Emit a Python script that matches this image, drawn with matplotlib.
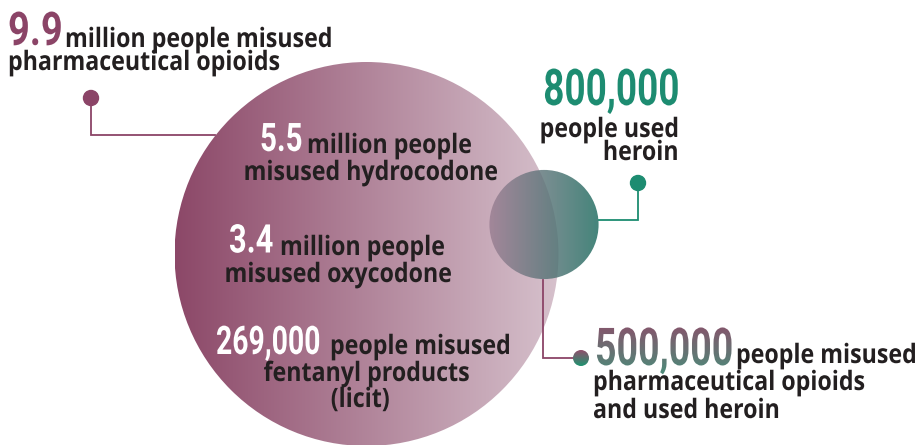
import numpy as np
import matplotlib
matplotlib.use("Agg")
import matplotlib.pyplot as plt
from matplotlib.patches import Circle
from matplotlib.patheffects import AbstractPathEffect
from matplotlib.transforms import TransformedPath, Affine2D

# ---------------- data ----------------
group_names = ["pharmaceutical opioids", "heroin", "both"]
group_values = [9.9e6, 0.8e6, 0.5e6]
group_numbers = ["9.9", "800,000", "500,000"]

drug_names = ["hydrocodone", "oxycodone", "fentanyl products (licit)"]
drug_values = [5.5e6, 3.4e6, 269000]
drug_numbers = ["5.5", "3.4", "269,000"]

# ---------------- style ----------------
MAROON = "#8B4467"
TEAL = "#1D8C71"
DARK = "#231F20"
NUM_FONT = ["Roboto", "DejaVu Sans"]
BODY_FONT = ["Open Sans", "DejaVu Sans"]
BODY_SIZE = 16.7
BODY_SY = 1.15

fig = plt.figure(figsize=(9.18, 4.45), dpi=100)
ax = fig.add_axes([0, 0, 1, 1])
ax.axis("off")


def grad_circle(cx, cy, r, c0, c1, alpha=1.0, z=1, vertical=False):
    circ = Circle((cx, cy), r, facecolor="none", edgecolor="none", zorder=z)
    ax.add_patch(circ)
    t = np.linspace(0, 1, 256)
    g = (1 - t)[:, None] * np.array(c0) + t[:, None] * np.array(c1)
    g = g / 255.0
    img = g[:, None, :] if vertical else g[None, :, :]
    im = ax.imshow(img, extent=(cx - r, cx + r, cy + r, cy - r), aspect="auto",
                   interpolation="bilinear", alpha=alpha, zorder=z)
    im.set_clip_path(circ)
    return circ


class Tall(AbstractPathEffect):
    """Draw the text stretched vertically about its baseline, optionally with a
    vertical colour gradient."""

    def __init__(self, sy=1.0, grad=None):
        super().__init__()
        self.sy = sy
        self.grad = grad

    def draw_path(self, renderer, gc, tpath, affine, rgbFace=None):
        aff = Affine2D().scale(1, self.sy) + affine
        if self.grad is None:
            renderer.draw_path(gc, tpath, aff, rgbFace)
            return
        c_top = np.array(self.grad[0]) / 255.0
        c_bot = np.array(self.grad[1]) / 255.0
        bb = tpath.get_extents(aff)
        x0, y0 = int(np.floor(bb.x0)), int(np.floor(bb.y0))
        w = int(np.ceil(bb.x1)) - x0 + 1
        h = int(np.ceil(bb.y1)) - y0 + 1
        t = np.linspace(0, 1, h)[:, None]
        col = (1 - t) * c_bot + t * c_top
        img = np.ones((h, w, 4))
        img[:, :, :3] = col[:, None, :]
        img = (img * 255).astype(np.uint8)
        gc0 = renderer.new_gc()
        gc0.copy_properties(gc)
        gc0.set_clip_path(TransformedPath(tpath, aff))
        renderer.draw_image(gc0, x0, y0, img)
        gc0.restore()


# circle sizes: area proportional to value
k = 192.0 / np.sqrt(group_values[0])
R_big = k * np.sqrt(group_values[0])
R_small = k * np.sqrt(group_values[1])

big_c = (366.5, 254.0)
small_c = (544.0, 224.5)

grad_circle(*big_c, R_big, (140, 72, 104), (214, 193, 204), z=1)

# connectors
ax.plot([91, 91, 215], [98, 135, 135], color=MAROON, lw=1.3, zorder=0.5,
        solid_joinstyle="miter")
ax.add_patch(Circle((91, 98), 7.5, color=MAROON, zorder=3))

ax.plot([543, 543, 581], [280, 358, 358], color=MAROON, lw=1.3, zorder=2,
        solid_joinstyle="miter")
grad_circle(581, 358, 8, (145, 78, 108), (30, 148, 112), z=3, vertical=True)

ax.plot([599, 638, 638], [220, 220, 183], color=TEAL, lw=1.3, zorder=2,
        solid_joinstyle="miter")
ax.add_patch(Circle((638, 183), 7.5, color=TEAL, zorder=3))

grad_circle(*small_c, R_small, (155, 127, 147), (28, 106, 94), alpha=0.82, z=2.5)


def num(x, y, s, color, size, sy, ha="left", grad=None):
    ax.text(x, y, s, fontsize=size, family=NUM_FONT, weight="bold", color=color,
            ha=ha, va="baseline", zorder=5,
            path_effects=[Tall(sy, grad)])


def body(x, y, s, ha="left"):
    ax.text(x, y, s, fontsize=BODY_SIZE, family=BODY_FONT, weight="bold", color=DARK,
            ha=ha, va="baseline", zorder=5,
            path_effects=[Tall(BODY_SY)])


# top-left annotation
num(8, 45, group_numbers[0], MAROON, 27.4, 1.22)
body(65, 47, "million people misused")
body(8, 70, group_names[0])

# heroin annotation
num(679, 105, group_numbers[1], TEAL, 26.6, 1.37, ha="right")
body(678, 137, "people used", ha="right")
body(678, 160, group_names[1], ha="right")

# inner annotations
num(260, 151, drug_numbers[0], "white", 21.3, 1.33)
body(307, 153, "million people")
body(370, 180, "misused " + drug_names[0], ha="center")

num(229, 252.5, drug_numbers[1], "white", 22.2, 1.28)
body(280, 255, "million people")
body(337.5, 282, "misused " + drug_names[1], ha="center")

num(216, 354, drug_numbers[2], "white", 20.4, 1.39)
body(330, 354, "people misused")
body(366, 381, "fentanyl products", ha="center")
body(360, 407, "(licit)", ha="center")

# overlap annotation
num(595, 365, group_numbers[2], MAROON, 27.0, 1.39,
    grad=((132, 86, 108), (76, 140, 122)))
body(736, 363, "people misused")
body(593, 390, "pharmaceutical opioids")
body(593, 418, "and used heroin")

ax.set_xlim(0, 918)
ax.set_ylim(445, 0)
fig.savefig("out.png", dpi=100)
